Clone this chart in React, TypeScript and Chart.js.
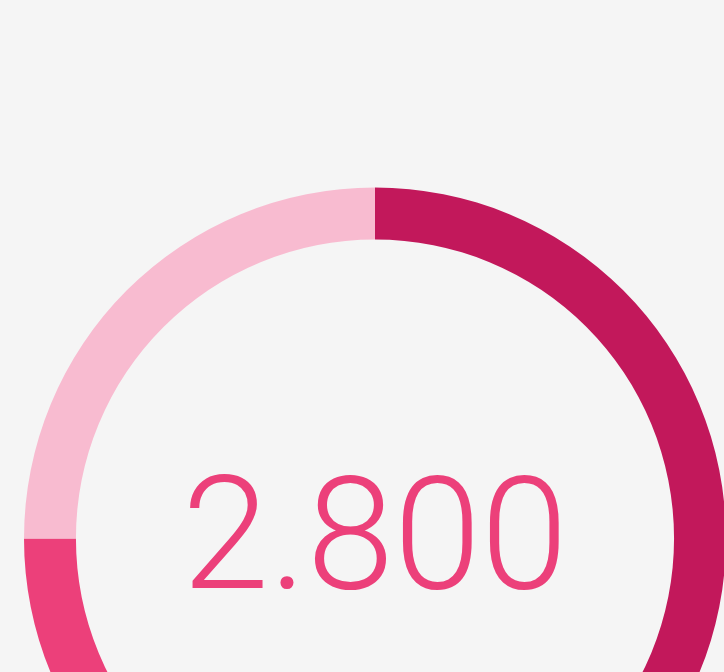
import React, { useEffect, useRef } from "react";
import { Chart, registerables } from "chart.js";

Chart.register(...registerables);

const categories = ["Dark", "Medium", "Light"];
const seriesValues = [50, 25, 25];
const segmentColors = ["#c2185b", "#ec407a", "#f8bbd0"];
const centerLabel = "2.800";

const centerTextPlugin = {
  id: "centerText",
  afterDraw(chart: any) {
    const { ctx, chartArea } = chart;
    const cx = (chartArea.left + chartArea.right) / 2;
    const cy = (chartArea.top + chartArea.bottom) / 2;
    ctx.save();
    ctx.font = "300 157px Roboto";
    ctx.fillStyle = "#ec407a";
    ctx.textAlign = "center";
    ctx.textBaseline = "alphabetic";
    ctx.fillText(centerLabel, cx, cy + 49);
    ctx.restore();
  },
};

export default function App() {
  const ref = useRef<HTMLCanvasElement | null>(null);
  useEffect(() => {
    document.body.style.margin = "0";
    document.body.style.overflow = "hidden";
    document.body.style.background = "#f5f5f5";
    const chart = new Chart(ref.current as HTMLCanvasElement, {
      type: "doughnut",
      data: {
        labels: categories,
        datasets: [
          {
            data: seriesValues,
            backgroundColor: segmentColors,
            borderWidth: 0,
          },
        ],
      },
      options: {
        responsive: false,
        animation: false,
        cutout: "85.2%",
        layout: { padding: { left: 24, right: 24, top: 0, bottom: 0 } },
        plugins: {
          legend: { display: false },
          tooltip: { enabled: false },
        },
      },
      plugins: [centerTextPlugin],
    });
    return () => chart.destroy();
  }, []);
  return (
    <div
      style={{
        position: "fixed",
        left: 0,
        top: 0,
        width: 724,
        height: 672,
        overflow: "hidden",
        background: "#f5f5f5",
      }}
    >
      <canvas
        ref={ref}
        width={750}
        height={1077}
        style={{ position: "absolute", left: 0, top: 0, width: 750, height: 1077 }}
      />
    </div>
  );
}
